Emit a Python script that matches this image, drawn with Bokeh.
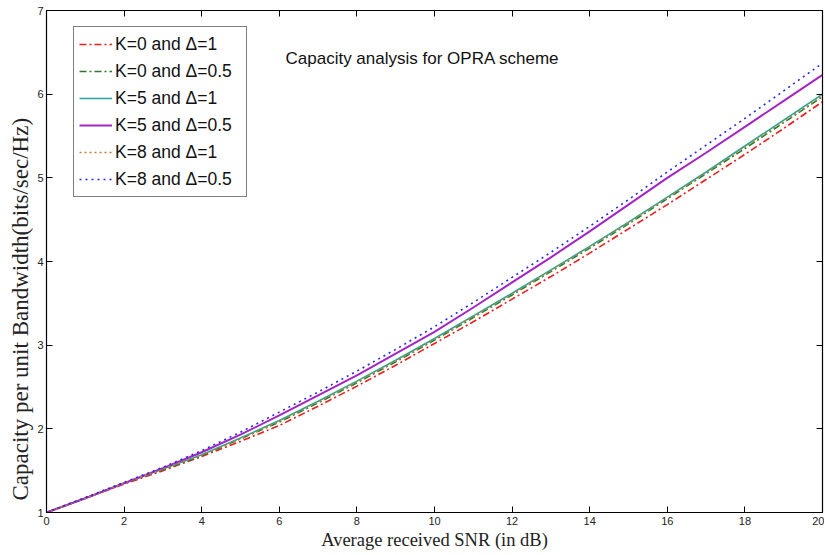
from bokeh.plotting import figure
from bokeh.models import Legend, LegendItem, Label, LinearAxis, FixedTicker, Range1d, Title
from bokeh.embed import file_html
from bokeh.resources import INLINE

snr_db = list(range(0, 21))
k0_d1 = [1.00, 1.17, 1.34, 1.50, 1.67, 1.85, 2.04, 2.27, 2.51, 2.76, 3.02,
         3.28, 3.55, 3.82, 4.10, 4.39, 4.68, 4.98, 5.28, 5.59, 5.91]
k0_d05 = [1.00, 1.17, 1.35, 1.51, 1.68, 1.88, 2.08, 2.31, 2.55, 2.80, 3.06,
          3.33, 3.60, 3.88, 4.16, 4.45, 4.75, 5.05, 5.35, 5.66, 5.97]
k5_d1 = [1.00, 1.17, 1.35, 1.52, 1.69, 1.89, 2.10, 2.33, 2.57, 2.82, 3.08,
         3.35, 3.62, 3.90, 4.18, 4.47, 4.77, 5.07, 5.38, 5.69, 6.00]
k5_d05 = [1.00, 1.17, 1.35, 1.53, 1.72, 1.93, 2.16, 2.40, 2.64, 2.90, 3.16,
          3.45, 3.75, 4.05, 4.36, 4.68, 5.00, 5.30, 5.61, 5.92, 6.23]
k8_d1 = [1.00, 1.17, 1.35, 1.52, 1.69, 1.88, 2.09, 2.32, 2.56, 2.81, 3.07,
         3.34, 3.61, 3.89, 4.17, 4.46, 4.76, 5.06, 5.37, 5.67, 5.98]
k8_d05 = [1.00, 1.18, 1.36, 1.54, 1.74, 1.96, 2.20, 2.44, 2.69, 2.95, 3.22,
          3.51, 3.81, 4.11, 4.42, 4.74, 5.07, 5.39, 5.71, 6.04, 6.37]

labels = ["K=0 and \u0394=1", "K=0 and \u0394=0.5", "K=5 and \u0394=1",
          "K=5 and \u0394=0.5", "K=8 and \u0394=1", "K=8 and \u0394=0.5"]
x_ticks = [0, 2, 4, 6, 8, 10, 12, 14, 16, 18, 20]
y_ticks = [1, 2, 3, 4, 5, 6, 7]

p = figure(width=824, height=554, output_backend="svg", toolbar_location=None,
           x_range=Range1d(0, 20), y_range=Range1d(1, 7),
           min_border_left=46, min_border_top=10, min_border_right=2, min_border_bottom=42)
p.background_fill_color = "white"
p.border_fill_color = "white"
p.outline_line_color = "black"
p.outline_line_width = 1.2
p.xgrid.visible = False
p.ygrid.visible = False

styles = [
    dict(color="#ee1c1c", dash="7 3 2 3", width=1.6),
    dict(color="#2a7a2a", dash="7 3 2 3", width=1.6),
    dict(color="#22a69c", dash="solid", width=1.6),
    dict(color="#a424c4", dash="solid", width=2.0),
    dict(color="#c08030", dash="2 3", width=1.6),
    dict(color="#2828e0", dash="2 4", width=1.6),
]
series = [k0_d1, k0_d05, k5_d1, k5_d05, k8_d1, k8_d05]
items = []
for ys, st, lab in zip(series, styles, labels):
    r = p.line(snr_db, ys, line_color=st["color"], line_dash=st["dash"], line_width=st["width"])
    items.append(LegendItem(label=lab, renderers=[r]))

tick_font = "Liberation Sans"
serif = "Liberation Serif"
for ax in (p.xaxis[0], p.yaxis[0]):
    ax.major_tick_in = 6
    ax.major_tick_out = 0
    ax.minor_tick_line_color = None
    ax.axis_line_color = "black"
    ax.major_tick_line_color = "black"
    ax.major_label_text_font = tick_font
    ax.major_label_text_font_size = "11px"
    ax.major_label_text_color = "#222222"
    ax.axis_label_text_font = serif
    ax.axis_label_text_font_style = "normal"
    ax.axis_label_text_color = "#222222"
p.xaxis[0].axis_label_text_font_size = "18.5px"
p.xaxis[0].ticker = FixedTicker(ticks=x_ticks)
p.yaxis[0].ticker = FixedTicker(ticks=y_ticks)
p.xaxis[0].axis_label = "Average received SNR (in dB)"
p.xaxis[0].major_label_standoff = 4
p.yaxis[0].major_label_standoff = 3
p.xaxis[0].axis_label_standoff = 2

ytitle = Title(text="Capacity per unit Bandwidth(bits/sec/Hz)", align="left", offset=12,
               text_font=serif, text_font_size="23px", text_font_style="normal",
               text_color="#222222", standoff=3)
p.add_layout(ytitle, "left")

top = LinearAxis(ticker=FixedTicker(ticks=x_ticks), major_tick_in=6, major_tick_out=0,
                 minor_tick_line_color=None, major_label_text_font_size="0px",
                 major_label_text_color=None, major_label_standoff=0, axis_line_color="black")
right = LinearAxis(ticker=FixedTicker(ticks=y_ticks), major_tick_in=6, major_tick_out=0,
                   minor_tick_line_color=None, major_label_text_font_size="0px",
                   major_label_text_color=None, major_label_standoff=0, axis_line_color="black")
p.add_layout(top, "above")
p.add_layout(right, "right")

legend = Legend(items=items, location=(27, 315))
legend.label_text_font = tick_font
legend.label_text_font_size = "17.5px"
legend.label_text_color = "#111111"
legend.glyph_width = 33
legend.glyph_height = 24
legend.label_height = 24
legend.label_width = 126
legend.label_standoff = 3
legend.spacing = 3
legend.padding = 5
legend.margin = 0
legend.border_line_color = "black"
legend.border_line_width = 1.5
legend.background_fill_alpha = 1.0
p.add_layout(legend, "center")

title = Label(x=239, y=454, x_units="screen", y_units="screen",
              text="Capacity analysis for OPRA scheme", text_font=tick_font,
              text_font_size="17px", text_color="#111111", text_baseline="middle")
p.add_layout(title)

open("out.html", "w").write(file_html(p, INLINE))
